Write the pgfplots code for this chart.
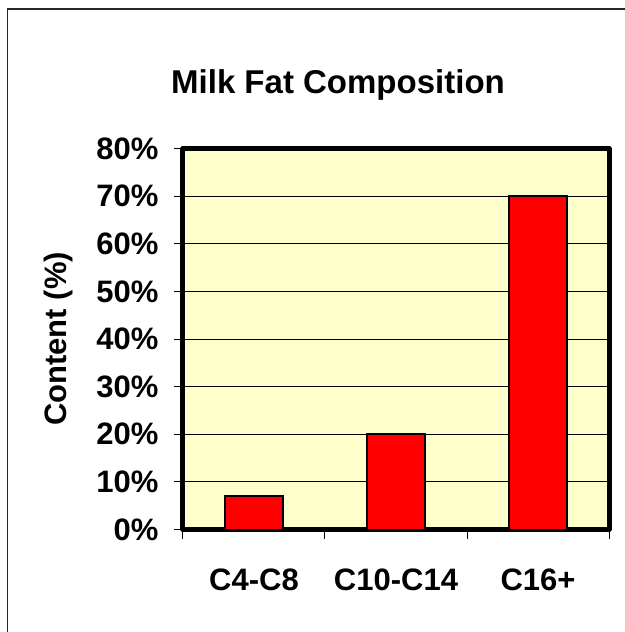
\documentclass[border=0pt]{standalone}
\usepackage{pgfplots}
\pgfplotsset{compat=1.18}
\usepackage{fontspec}
\setmainfont{Liberation Sans}
\definecolor{plotbg}{HTML}{FFFFCC}
\begin{document}
\begin{tikzpicture}[x=1pt,y=1pt]
\begin{axis}[
  width=426pt, height=381pt, scale only axis,
  xmin=-0.5, xmax=2.5, ymin=0, ymax=80,
  axis background/.style={fill=plotbg},
  axis line style={line width=5pt, line join=round},
  ybar, bar width=58pt,
  ytick={0,10,...,80},
  yticklabel={\pgfmathprintnumber[assume math mode=true]{\tick}\%},
  xtick={-0.5,0.5,1.5,2.5}, xticklabels={},
  extra x ticks={0,1,2},
  extra x tick labels={C4-C8,C10-C14,C16+},
  extra x tick style={major tick length=0pt},
  tick align=outside, major tick length=9pt,
  tick style={black, line width=1pt},
  tick pos=left,
  ymajorgrids, grid style={black, line width=0.9pt},
  ticklabel style={font=\fontsize{31}{37}\selectfont\bfseries},
  xticklabel style={yshift=-36pt},
  yticklabel style={xshift=-12pt},
  ylabel={Content (\%)},
  ylabel style={font=\fontsize{31}{37}\selectfont\bfseries, at={(axis description cs:-0.293,0.5)}, anchor=center},
]
\addplot[fill=red, draw=black, line width=2pt] coordinates {(0,7) (1,20) (2,70)};
\coordinate (bl) at (rel axis cs:0,0);
\end{axis}
\begin{scope}[shift={(bl)}]
\path (-183,-102.5) rectangle (441,529.5);
\draw[overlay, line width=1.2pt, black!85] (-175.3,-150) -- (-175.3,520.5) -- (520,520.5);
\node[font=\fontsize{33}{39}\selectfont\bfseries] at (155,444.5) {Milk Fat Composition};
\end{scope}
\end{tikzpicture}
\end{document}
